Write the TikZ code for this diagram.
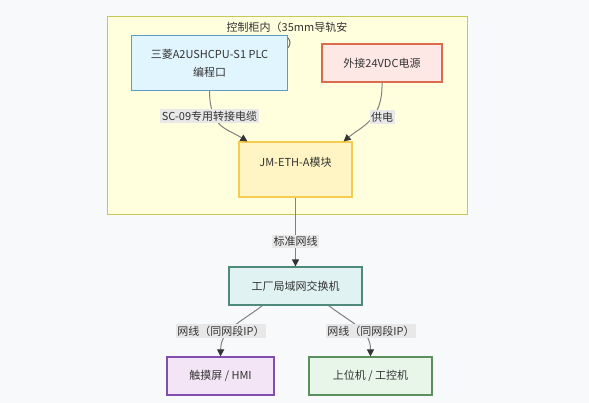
\documentclass[tikz,border=0pt]{standalone}
\usepackage{fontspec}
\setmainfont{Noto Sans CJK SC}
\usetikzlibrary{arrows.meta}
\definecolor{bgc}{HTML}{F8F9FA}
\definecolor{clfill}{HTML}{FFFFDE}
\definecolor{cldraw}{HTML}{C8C85A}
\definecolor{plcfill}{HTML}{E1F5FE}
\definecolor{plcdraw}{HTML}{5E9CC6}
\definecolor{pwrfill}{HTML}{FDE8E6}
\definecolor{pwrdraw}{HTML}{DC6A4C}
\definecolor{jmfill}{HTML}{FFF5C4}
\definecolor{jmdraw}{HTML}{F5CB50}
\definecolor{swfill}{HTML}{E0F2F1}
\definecolor{swdraw}{HTML}{4F8A7C}
\definecolor{hmifill}{HTML}{F3E5F5}
\definecolor{hmidraw}{HTML}{7E4FB0}
\definecolor{pcfill}{HTML}{E8F5E9}
\definecolor{pcdraw}{HTML}{5B8F5B}
\definecolor{linec}{HTML}{808080}
\definecolor{tipc}{HTML}{333333}
\definecolor{lblbg}{HTML}{E8E8E8}
\definecolor{txt}{HTML}{333333}
\begin{document}
\begin{tikzpicture}[x=1pt,y=-1pt,
  font=\fontsize{11}{18}\selectfont, text=txt,
  box/.style={draw, line width=1.2pt, inner sep=0pt, align=center},
  conn/.style={draw=linec, line width=1pt, -{Triangle[length=7pt,width=7pt,color=tipc]}},
  lbl/.style={fill=lblbg, inner sep=1.5pt, text=txt}]
\useasboundingbox (0,0) rectangle (589,403);
\fill[bgc] (0,0) rectangle (589,403);
% cluster
\draw[fill=clfill, draw=cldraw, line width=1pt] (107,17) rectangle (467,215);
\node[align=center, font=\fontsize{11}{16}\selectfont] (cltitle) at (287,35) {控制柜内（35mm导轨安\\装）};
% nodes
\node[box, fill=plcfill, draw=plcdraw, minimum width=156pt, minimum height=55pt] (plc) at (209.5,63) {三菱A2USHCPU-S1 PLC\\编程口};
\node[box, fill=pwrfill, draw=pwrdraw, minimum width=120pt, minimum height=38pt] (pwr) at (382,63) {外接24VDC电源};
\node[box, fill=jmfill, draw=jmdraw, minimum width=113pt, minimum height=55pt, text height=8pt, text depth=13pt] (jm) at (295.5,169.5) {JM-ETH-A模块};
\node[box, fill=swfill, draw=swdraw, minimum width=133pt, minimum height=38pt] (sw) at (295.5,286) {工厂局域网交换机};
\node[box, fill=hmifill, draw=hmidraw, minimum width=107pt, minimum height=38pt] (hmi) at (220.5,376) {触摸屏 / HMI};
\node[box, fill=pcfill, draw=pcdraw, minimum width=123pt, minimum height=38pt] (pc) at (370.5,376) {上位机 / 工控机};
% connectors
\draw[conn] (plc.south) .. controls (210,128) and (226,128) .. ([xshift=9pt]jm.north west);
\draw[conn] (pwr.south) .. controls (383,120) and (362,126) .. ([xshift=-9pt]jm.north east);
\draw[conn] (jm.south) -- (sw.north);
\draw[conn] ([xshift=34pt]sw.south west) .. controls (238,324) and (221,330) .. (hmi.north);
\draw[conn] ([xshift=-34pt]sw.south east) .. controls (353,324) and (370.5,330) .. (pc.north);
% labels
\node[lbl] (l1) at (209.5,116) {SC-09专用转接电缆};
\node[lbl] (l2) at (382,117) {供电};
\node[lbl] (l3) at (295.5,241.5) {标准网线};
\node[lbl] (l4) at (221,331) {网线（同网段IP）};
\node[lbl] (l5) at (371,331) {网线（同网段IP）};
\end{tikzpicture}
\end{document}
